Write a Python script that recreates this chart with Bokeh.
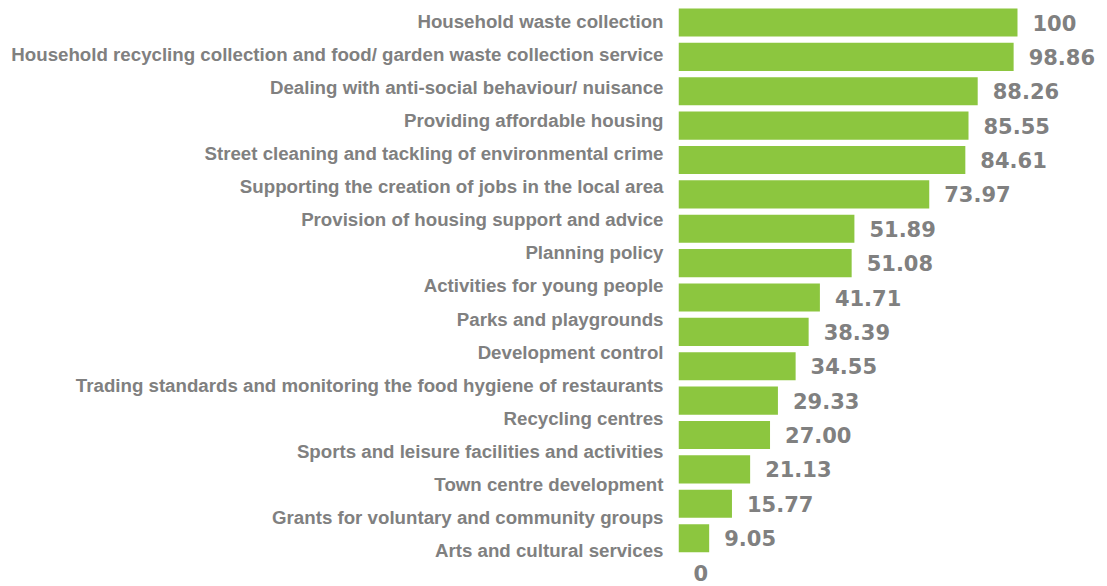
from bokeh.plotting import figure
from bokeh.models import ColumnDataSource, Range1d, LinearAxis, FixedTicker
from bokeh.core.properties import value
from bokeh.embed import file_html
from bokeh.resources import INLINE

# ---- data ----
categories = [
    "Household waste collection",
    "Household recycling collection and food/ garden waste collection service",
    "Dealing with anti-social behaviour/ nuisance",
    "Providing affordable housing",
    "Street cleaning and tackling of environmental crime",
    "Supporting the creation of jobs in the local area",
    "Provision of housing support and advice",
    "Planning policy",
    "Activities for young people",
    "Parks and playgrounds",
    "Development control",
    "Trading standards and monitoring the food hygiene of restaurants",
    "Recycling centres",
    "Sports and leisure facilities and activities",
    "Town centre development",
    "Grants for voluntary and community groups",
    "Arts and cultural services",
]
scores = [100, 98.86, 88.26, 85.55, 84.61, 73.97, 51.89, 51.08, 41.71, 38.39,
          34.55, 29.33, 27.00, 21.13, 15.77, 9.05, 0]
score_labels = ["100", "98.86", "88.26", "85.55", "84.61", "73.97", "51.89", "51.08",
                "41.71", "38.39", "34.55", "29.33", "27.00", "21.13", "15.77", "9.05", "0"]

GREEN = "#8CC63F"
GREY = "#808080"

n = len(categories)
rows = list(range(n))  # row 0 at top

source = ColumnDataSource(dict(row=rows, score=scores, label=score_labels, cat=categories))

W, H = 1107, 586
p = figure(
    width=W, height=H,
    x_range=Range1d(0, 126.55),
    y_range=Range1d(16.407, -0.64),
    output_backend="svg", toolbar_location=None,
    x_axis_location=None, y_axis_location=None,
    min_border_left=678, min_border_right=0, min_border_top=0, min_border_bottom=0,
)
p.extra_y_ranges = {"labels": Range1d(17.09, -0.635)}
p.outline_line_color = None
p.xgrid.visible = False
p.ygrid.visible = False
p.background_fill_color = "white"
p.border_fill_color = "white"

p.hbar(y="row", right="score", left=0, height=0.815, source=source,
       fill_color=GREEN, line_color=None)

p.text(x="score", y="row", text="label", source=source,
       x_offset=15, y_offset=0, text_align="left", text_baseline="middle",
       text_font=value("DejaVu Sans"), text_font_style="bold",
       text_font_size="21px", text_color=GREY)

yaxis = LinearAxis(
    y_range_name="labels",
    ticker=FixedTicker(ticks=rows),
    major_label_overrides={i: c for i, c in zip(rows, categories)},
)
yaxis.axis_line_color = None
yaxis.major_tick_line_color = None
yaxis.minor_tick_line_color = None
yaxis.major_tick_in = 0
yaxis.major_tick_out = 0
yaxis.major_label_standoff = 15
yaxis.major_label_text_font = "Liberation Sans"
yaxis.major_label_text_font_style = "bold"
yaxis.major_label_text_font_size = "18.7px"
yaxis.major_label_text_color = GREY
p.add_layout(yaxis, "left")

open("out.html", "w").write(file_html(p, INLINE))
